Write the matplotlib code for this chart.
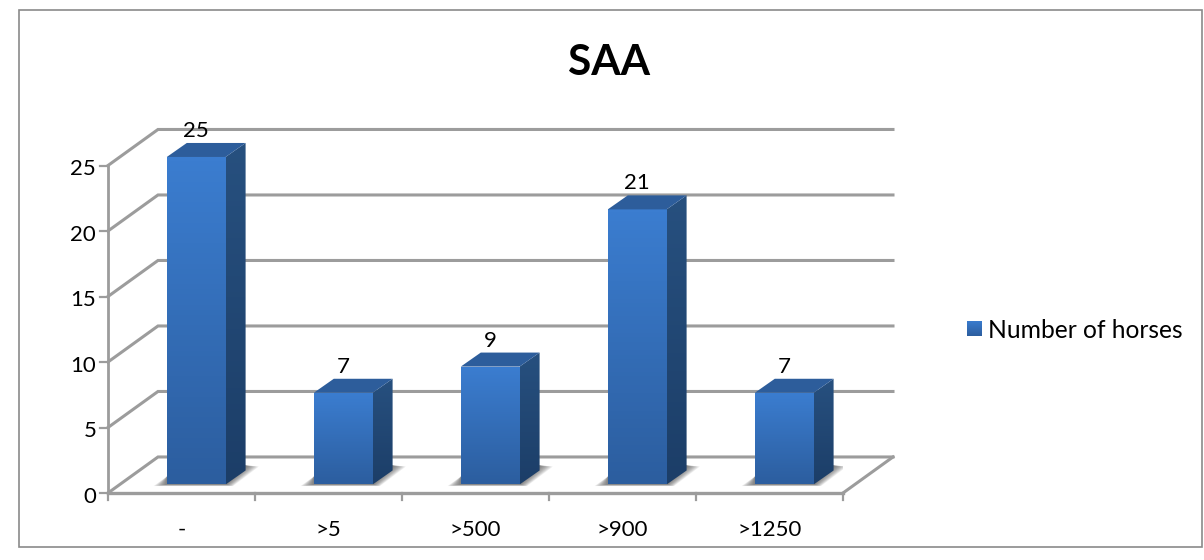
import numpy as np
import matplotlib
matplotlib.use("Agg")
import matplotlib.pyplot as plt
from matplotlib.patches import Polygon, Rectangle
from matplotlib.colors import LinearSegmentedColormap

categories = ["-", ">5", ">500", ">900", ">1250"]
horses = [25, 7, 9, 21, 7]
y_ticks = [0, 5, 10, 15, 20, 25]
series_name = "Number of horses"
title = "SAA"

W, H = 1204, 560
GRID = "#9c9c9c"

# oblique 3D look: how far the back wall is shifted from the front plane
WALL_DX = 0.34
WALL_DY = 2.75
# bars stand a little in from the front edge of the floor
BAR_W = 0.40
BAR_DX = 0.10
BAR_DY = 0.65
SIDE_DX = 0.136
SIDE_DY = 1.07

front_cm = LinearSegmentedColormap.from_list("front", ["#3b7dd0", "#2c5e9f"])
side_cm = LinearSegmentedColormap.from_list("side", ["#27507f", "#1c3e68"])

plt.rcParams["font.family"] = ["Lato", "DejaVu Sans"]

fig = plt.figure(figsize=(W / 100, H / 100), dpi=100)

# outer chart frame
fig.add_artist(Rectangle((19 / W, 1 - 547 / H), 1183 / W, 537 / H, transform=fig.transFigure,
                         fc="white", ec="#8a8a8a", lw=1.2, zorder=-1))

ax = fig.add_axes([108 / W, 1 - 493 / H, 735 / W, 327.5 / H])
ax.patch.set_visible(False)
ax.axis("off")


def gradient(poly, cmap, x0, x1, y0, y1, zorder):
    im = ax.imshow(np.linspace(0, 1, 64).reshape(-1, 1), cmap=cmap, aspect="auto",
                   extent=(x0, x1, y0, y1), origin="upper", zorder=zorder)
    patch = Polygon(poly, transform=ax.transData, fc="none", ec="none")
    ax.add_patch(patch)
    im.set_clip_path(patch)
    # the tallest bar pokes out above the axes box
    im.set_clip_box(fig.bbox)


# gridlines run along the back wall and down the left side wall
n = len(categories)
for v in y_ticks:
    ax.plot([0, WALL_DX, n + WALL_DX], [v, v + WALL_DY, v + WALL_DY],
            color=GRID, lw=2.2, clip_on=False, zorder=1, solid_joinstyle="miter")
    ax.plot([-0.055, 0], [v, v], color=GRID, lw=1.6, clip_on=False, zorder=1)

# floor and axes
ax.plot([n, n + WALL_DX], [0, WALL_DY], color=GRID, lw=2.2, clip_on=False, zorder=1)
ax.plot([0, n], [0, 0], color=GRID, lw=2.4, clip_on=False, zorder=2)
ax.plot([0, 0], [0, 25], color=GRID, lw=2.0, clip_on=False, zorder=2)
for i in range(n + 1):
    ax.plot([i, i], [0, -0.55], color=GRID, lw=1.6, clip_on=False, zorder=2)

for i, val in enumerate(horses):
    x0 = i + 0.5 - BAR_W / 2 + BAR_DX
    x1 = x0 + BAR_W
    y0 = BAR_DY
    top = val + BAR_DY

    # soft shadow on the floor, built up from stacked translucent layers
    for k in np.linspace(1, 0.1, 10):
        ax.add_patch(Polygon([(x0 - 0.09 * k, y0 - 0.12 * k), (x1 + 0.05 * k, y0 - 0.12 * k),
                              (x1 + SIDE_DX + 0.09 * k, y0 + SIDE_DY + 0.3),
                              (x1 + SIDE_DX, y0 + SIDE_DY + 0.4), (x0, y0 + 0.6)],
                             fc="#3c3c3c", ec="none", alpha=0.09, zorder=3))

    gradient([(x0, y0), (x1, y0), (x1, top), (x0, top)], front_cm, x0, x1, y0, top, 5)
    gradient([(x1, y0), (x1 + SIDE_DX, y0 + SIDE_DY), (x1 + SIDE_DX, top + SIDE_DY), (x1, top)],
             side_cm, x1, x1 + SIDE_DX, y0, top + SIDE_DY, 5)
    ax.add_patch(Polygon([(x0, top), (x1, top), (x1 + SIDE_DX, top + SIDE_DY), (x0 + SIDE_DX, top + SIDE_DY)],
                         fc="#2d5d9b", ec="none", zorder=5, clip_on=False))

    ax.text((x0 + x1) / 2, top + SIDE_DY + 0.15, str(val), ha="center", va="bottom",
            fontsize=16, color="black", zorder=6, clip_on=False)

for v in y_ticks:
    ax.text(-0.08, v - 0.27, str(v), ha="right", va="center", fontsize=16, color="black", clip_on=False)
for i, c in enumerate(categories):
    ax.text(i + 0.5, -2.8, c, ha="center", va="center", fontsize=16, color="black", clip_on=False)

# imshow resets the limits, so they are fixed last
ax.set_xlim(0, n)
ax.set_ylim(0, 25)

fig.text(609 / W, 1 - 63 / H, title, ha="center", va="center", fontsize=30.5, fontweight="bold", color="black")

# legend swatch and label
leg = fig.add_axes([967 / W, 1 - 336 / H, 15 / W, 15 / H])
leg.imshow(np.linspace(0, 1, 32).reshape(-1, 1), cmap=front_cm, aspect="auto")
leg.axis("off")
fig.text(988 / W, 1 - 331 / H, series_name, ha="left", va="center", fontsize=17.7, color="black")

fig.savefig("out.png", dpi=100)
plt.close(fig)
